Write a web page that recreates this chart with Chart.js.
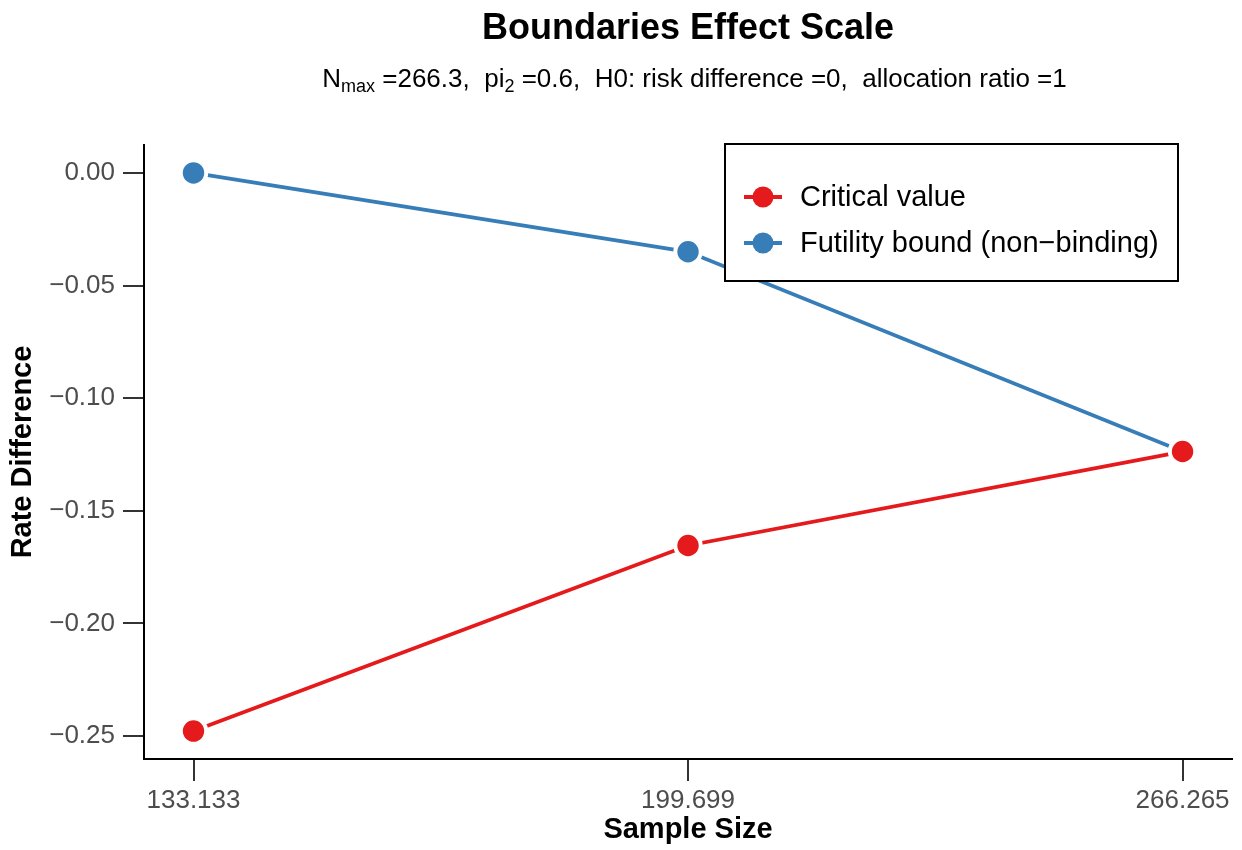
<!DOCTYPE html>
<html>
<head>
<meta charset="utf-8">
<script src="https://cdn.jsdelivr.net/npm/chart.js@4.4.1/dist/chart.umd.min.js"></script>
<style>
  html, body { margin: 0; padding: 0; background: #ffffff; }
  #wrap { width: 1242px; height: 850px; }
</style>
</head>
<body>
<div id="wrap"><canvas id="c" width="1242" height="850"></canvas></div>
<script>
// ---- data ----
const sampleSizes = [133.133, 199.699, 266.265];
const criticalValues = [-0.2478, -0.1654, -0.1237];
const futilityBounds = [0.0000, -0.0350, -0.1237];
const seriesLabels = ['Critical value', 'Futility bound (non\u2212binding)'];
const seriesColors = ['#E41A1C', '#377EB8'];
const xTickValues = [133.133, 199.699, 266.265];
const xTickLabels = ['133.133', '199.699', '266.265'];
const yTickValues = [0.00, -0.05, -0.10, -0.15, -0.20, -0.25];
const yTickLabels = ['0.00', '\u22120.05', '\u22120.10', '\u22120.15', '\u22120.20', '\u22120.25'];
const xLimits = [126.47, 272.92];
const yLimits = [-0.2602, 0.0124];

const FONT = '"Liberation Sans", Arial, Helvetica, sans-serif';

function toPoints(xs, ys) { return xs.map((x, i) => ({ x: x, y: ys[i] })); }

const titlePlugin = {
  id: 'titles',
  afterDraw(chart) {
    const ctx = chart.ctx;
    const ca = chart.chartArea;
    ctx.save();
    ctx.fillStyle = '#000';
    ctx.textBaseline = 'alphabetic';
    ctx.textAlign = 'center';
    ctx.font = 'bold 36px ' + FONT;
    ctx.fillText('Boundaries Effect Scale', (ca.left + ca.right) / 2, 39);
    // subtitle with subscripts
    const parts = [
      ['N', 0], ['max', 1], [' =266.3,  pi', 0], ['2', 1],
      [' =0.6,  H0: risk difference =0,  allocation ratio =1', 0]
    ];
    const mainF = '26px ' + FONT, subF = '18px ' + FONT;
    ctx.textAlign = 'left';
    let total = 0;
    parts.forEach(p => { ctx.font = p[1] ? subF : mainF; total += ctx.measureText(p[0]).width; });
    let x = 694.5 - total / 2;
    parts.forEach(p => {
      ctx.font = p[1] ? subF : mainF;
      ctx.fillText(p[0], x, p[1] ? 92 : 87);
      x += ctx.measureText(p[0]).width;
    });
    ctx.restore();
  }
};

const legendPlugin = {
  id: 'boxLegend',
  afterDraw(chart) {
    const ctx = chart.ctx;
    ctx.save();
    const bx = 725, by = 144, bw = 453, bh = 137;
    ctx.fillStyle = '#fff';
    ctx.fillRect(bx, by, bw, bh);
    ctx.strokeStyle = '#000';
    ctx.lineWidth = 2;
    ctx.strokeRect(bx, by, bw, bh);
    const rows = [197, 243];
    chart.data.datasets.forEach((ds, i) => {
      const y = rows[i];
      ctx.strokeStyle = ds.borderColor;
      ctx.lineWidth = 3.8;
      ctx.beginPath();
      ctx.moveTo(744, y); ctx.lineTo(782, y);
      ctx.stroke();
      ctx.fillStyle = ds.pointBackgroundColor;
      ctx.beginPath();
      ctx.arc(763, y, 10.5, 0, Math.PI * 2);
      ctx.fill();
      ctx.fillStyle = '#000';
      ctx.font = '29px ' + FONT;
      ctx.textBaseline = 'middle';
      ctx.textAlign = 'left';
      ctx.fillText(ds.label, 800, y + 1);
    });
    ctx.restore();
  }
};

const datasets = [
  { values: criticalValues },
  { values: futilityBounds }
].map((s, i) => ({
  label: seriesLabels[i],
  data: toPoints(sampleSizes, s.values),
  borderColor: seriesColors[i],
  backgroundColor: seriesColors[i],
  pointBackgroundColor: seriesColors[i],
  pointBorderColor: '#ffffff',
  pointBorderWidth: 4,
  pointRadius: 12.7,
  pointHoverRadius: 12.7,
  borderWidth: 3.8,
  tension: 0,
  fill: false,
  clip: false
}));

new Chart(document.getElementById('c'), {
  type: 'line',
  data: { datasets: datasets },
  options: {
    responsive: false,
    devicePixelRatio: 1,
    animation: false,
    events: [],
    layout: { autoPadding: false, padding: { top: 145, right: 10, left: 0, bottom: 0 } },
    plugins: { legend: { display: false }, tooltip: { enabled: false }, title: { display: false } },
    scales: {
      x: {
        type: 'linear',
        min: xLimits[0], max: xLimits[1],
        afterFit(scale) { scale.height = 91; scale.paddingLeft = 0; scale.paddingRight = 0; },
        afterBuildTicks(scale) { scale.ticks = xTickValues.map(v => ({ value: v })); },
        border: { display: true, color: '#000', width: 2 },
        grid: { display: true, drawOnChartArea: false, drawTicks: true, tickLength: 22, color: '#333333', lineWidth: 2 },
        ticks: {
          padding: 4,
          color: '#4d4d4d',
          font: { family: FONT, size: 26 },
          maxRotation: 0,
          autoSkip: false,
          callback: (v, i) => xTickLabels[i]
        },
        title: {
          display: true, text: 'Sample Size', color: '#000',
          font: { family: FONT, size: 29, weight: 'bold', lineHeight: 1.2 },
          padding: { top: 0, bottom: 3 }
        }
      },
      y: {
        type: 'linear',
        min: yLimits[0], max: yLimits[1],
        afterFit(scale) { scale.width = 144; scale.paddingTop = 0; scale.paddingBottom = 0; },
        afterBuildTicks(scale) { scale.ticks = yTickValues.map(v => ({ value: v })); },
        border: { display: true, color: '#000', width: 2 },
        grid: { display: true, drawOnChartArea: false, drawTicks: true, tickLength: 21, color: '#333333', lineWidth: 2 },
        ticks: {
          padding: 8,
          color: '#4d4d4d',
          font: { family: FONT, size: 26 },
          autoSkip: false,
          callback: (v, i) => yTickLabels[i]
        },
        title: {
          display: true, text: 'Rate Difference', color: '#000',
          font: { family: FONT, size: 29, weight: 'bold', lineHeight: 1.2 },
          padding: { top: 6, bottom: 0 }
        }
      }
    }
  },
  plugins: [titlePlugin, legendPlugin]
});
</script>
</body>
</html>
